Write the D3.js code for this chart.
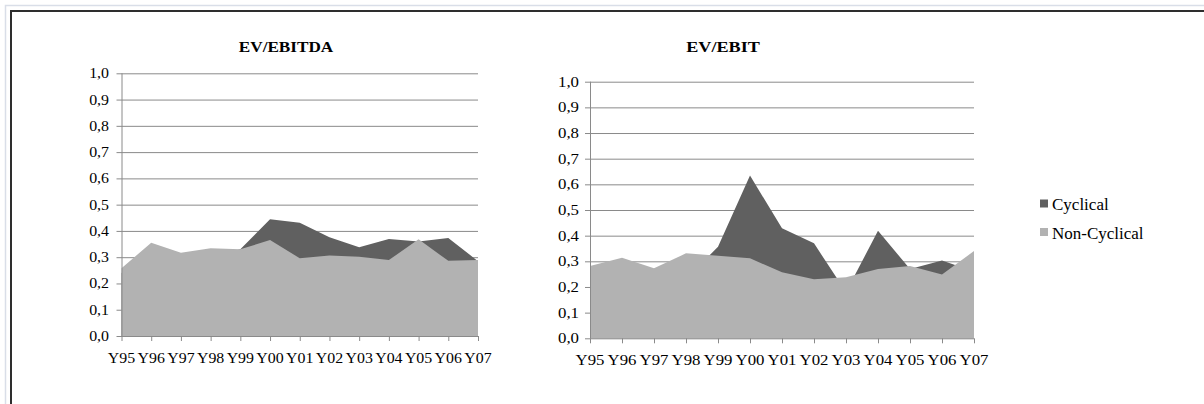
<!DOCTYPE html>
<html>
<head>
<meta charset="utf-8">
<script src="https://cdn.jsdelivr.net/npm/d3@7"></script>
<style>
  html, body { margin: 0; padding: 0; background: #fff; }
  svg { display: block; }
</style>
</head>
<body>
<svg id="chart" width="1204" height="404"></svg>
<script>
// Years on the category axis
const years = ["Y95","Y96","Y97","Y98","Y99","Y00","Y01","Y02","Y03","Y04","Y05","Y06","Y07"];
const yTicks = [0,0.1,0.2,0.3,0.4,0.5,0.6,0.7,0.8,0.9,1.0];
const seriesNames = ["Cyclical","Non-Cyclical"];

// EV/EBITDA
const ebitdaCyclical    = [0.24,0.31,0.29,0.30,0.33,0.444,0.431,0.376,0.338,0.369,0.36,0.373,0.285];
const ebitdaNonCyclical = [0.258,0.355,0.317,0.334,0.33,0.365,0.296,0.306,0.302,0.289,0.368,0.286,0.289];

// EV/EBIT
const ebitCyclical    = [0.25,0.27,0.24,0.23,0.357,0.634,0.429,0.37,0.18,0.419,0.27,0.303,0.26];
const ebitNonCyclical = [0.282,0.314,0.273,0.331,0.322,0.312,0.257,0.23,0.238,0.27,0.282,0.249,0.34];

const colors = { "Cyclical": "#606060", "Non-Cyclical": "#b2b2b2" };
const FONT = '"Liberation Serif", "Times New Roman", serif';

const svg = d3.select("#chart");

// page frame
svg.append("rect").attr("x", 5.5).attr("y", 5.5).attr("width", 1240).attr("height", 440)
  .attr("fill", "none").attr("stroke", "#d9dee8").attr("stroke-width", 1.5);
svg.append("rect").attr("x", 11).attr("y", 11).attr("width", 1240).attr("height", 440)
  .attr("fill", "none").attr("stroke", "#2e2e2e").attr("stroke-width", 2);

const fmt = v => d3.format(".1f")(v).replace(".", ",");

function drawPanel(cfg) {
  const x = d3.scalePoint().domain(years).range([cfg.x0, cfg.x1]).padding(0);
  const y = d3.scaleLinear().domain([0, 1]).range([cfg.yBottom, cfg.yTop]);
  const g = svg.append("g");

  // horizontal gridlines with left tick marks
  g.selectAll("line.grid").data(yTicks.filter(d => d > 0)).join("line")
    .attr("x1", cfg.x0 - 5).attr("x2", cfg.x1)
    .attr("y1", d => y(d) + 0.5).attr("y2", d => y(d) + 0.5)
    .attr("stroke", "#8a8a8a").attr("stroke-width", 1);

  const area = d3.area().x((d, i) => x(years[i])).y0(y(0)).y1(d => y(d));
  [["Cyclical", cfg.cyc], ["Non-Cyclical", cfg.non]].forEach(([name, vals]) => {
    g.append("path").datum(vals).attr("d", area).attr("fill", colors[name]);
  });

  // vertical axis
  g.append("line").attr("x1", cfg.x0 + 0.5).attr("x2", cfg.x0 + 0.5)
    .attr("y1", y(1)).attr("y2", y(0)).attr("stroke", "#8a8a8a");
  // horizontal axis with category ticks
  g.append("line").attr("x1", cfg.x0 - 5).attr("x2", cfg.x1)
    .attr("y1", y(0) + 0.5).attr("y2", y(0) + 0.5).attr("stroke", "#8a8a8a");
  g.selectAll("line.xt").data(years).join("line")
    .attr("x1", d => x(d) + 0.5).attr("x2", d => x(d) + 0.5)
    .attr("y1", y(0)).attr("y2", y(0) + 5).attr("stroke", "#8a8a8a");

  // y labels
  g.selectAll("text.yl").data(yTicks).join("text")
    .style("font-family", FONT).style("font-size", "15px")
    .attr("text-anchor", "end")
    .attr("transform", d => `translate(${cfg.labelRight},${y(d) + 5}) scale(${cfg.sx},1)`)
    .text(fmt);

  // x labels
  g.selectAll("text.xl").data(years).join("text")
    .style("font-family", FONT).style("font-size", "15px")
    .attr("text-anchor", "middle")
    .attr("transform", d => `translate(${x(d)},${cfg.xLabelY}) scale(${cfg.sx},1)`)
    .text(d => d);

  // title
  g.append("text")
    .style("font-family", FONT).style("font-size", "15px").style("font-weight", "bold")
    .attr("text-anchor", "middle")
    .attr("transform", `translate(${cfg.titleX},52) scale(${cfg.sx * 1.08},1)`)
    .text(cfg.title);
}

drawPanel({ title: "EV/EBITDA", cyc: ebitdaCyclical, non: ebitdaNonCyclical,
  x0: 121.5, x1: 478, yTop: 73.3, yBottom: 336, labelRight: 109, xLabelY: 363, titleX: 286, sx: 1.06 });
drawPanel({ title: "EV/EBIT", cyc: ebitCyclical, non: ebitNonCyclical,
  x0: 590, x1: 974, yTop: 81.7, yBottom: 338.3, labelRight: 579, xLabelY: 365, titleX: 723, sx: 1.12 });

// legend
const legend = svg.append("g");
seriesNames.forEach((name, i) => {
  const yy = 199.5 + i * 28.5;
  legend.append("rect").attr("x", 1040).attr("y", yy).attr("width", 8).attr("height", 8)
    .attr("fill", colors[name]);
  legend.append("text")
    .style("font-family", FONT).style("font-size", "17px")
    .attr("x", 1052).attr("y", yy + 10.5).text(name);
});
</script>
</body>
</html>
